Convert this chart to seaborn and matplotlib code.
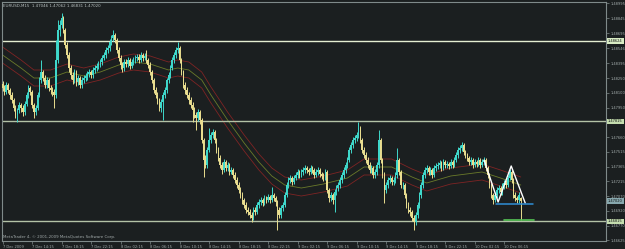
import numpy as np
import pandas as pd
import matplotlib
matplotlib.use("Agg")
import matplotlib.pyplot as plt
import seaborn as sns

# ---------------- data (EURUSD, M15) ----------------
symbol_header = "EURUSD,M15  1.47046 1.47062 1.46831 1.47020"
footer_text = "MetaTrader 4, \u00a9 2001-2009 MetaQuotes Software Corp."

open_ = [1.4819,1.4815,1.4811,1.4818,1.4813,1.4808,1.4803,1.4795,1.4788,1.4793,
 1.4798,1.4795,1.4791,1.4799,1.4808,1.4815,1.4811,1.4798,1.4791,1.4795,
 1.4808,1.4823,1.4831,1.4825,1.4818,1.4823,1.4815,1.4813,1.4811,1.4808,
 1.4843,1.4873,1.4878,1.4885,1.4873,1.4858,1.4848,1.4835,1.4828,1.4823,
 1.4831,1.4821,1.4825,1.4818,1.4823,1.4825,1.4827,1.4829,1.4831,1.4828,
 1.4833,1.4835,1.4837,1.4839,1.4841,1.4845,1.4848,1.4853,1.4855,1.4861,
 1.4865,1.4868,1.4863,1.4853,1.4845,1.4838,1.4835,1.4841,1.4839,1.4843,
 1.4837,1.4841,1.4843,1.4845,1.4846,1.4843,1.4848,1.4845,1.4847,1.4843,
 1.4838,1.4831,1.4823,1.4813,1.4808,1.4803,1.4795,1.4801,1.4808,1.4813,
 1.4823,1.4828,1.4835,1.4843,1.4848,1.4853,1.4855,1.4843,1.4831,1.4818,
 1.4813,1.4808,1.4803,1.4798,1.4793,1.4788,1.4785,1.4791,1.4783,1.4763,
 1.4743,1.4738,1.4753,1.4763,1.4768,1.4771,1.4763,1.4753,1.4745,1.4738,
 1.4733,1.4741,1.4735,1.4738,1.4731,1.4733,1.4728,1.4723,1.4718,1.4713,
 1.4708,1.4703,1.4698,1.4693,1.4691,1.4688,1.4685,1.4693,1.4691,1.4698,
 1.4701,1.4703,1.4700,1.4705,1.4703,1.4706,1.4703,1.4708,1.4705,1.4701,
 1.4693,1.4688,1.4695,1.4698,1.4708,1.4718,1.4723,1.4725,1.4721,1.4725,
 1.4728,1.4731,1.4728,1.4731,1.4733,1.4735,1.4733,1.4731,1.4735,1.4733,
 1.4728,1.4731,1.4733,1.4729,1.4727,1.4725,1.4731,1.4713,1.4705,1.4708,
 1.4703,1.4711,1.4715,1.4718,1.4723,1.4728,1.4733,1.4738,1.4743,1.4753,
 1.4758,1.4763,1.4765,1.4768,1.4775,1.4763,1.4753,1.4748,1.4743,1.4738,
 1.4733,1.4735,1.4728,1.4731,1.4738,1.4763,1.4743,1.4728,1.4713,1.4718,
 1.4723,1.4725,1.4721,1.4723,1.4728,1.4743,1.4731,1.4718,1.4718,1.4708,
 1.4698,1.4693,1.4691,1.4685,1.4681,1.4688,1.4698,1.4708,1.4718,1.4728,
 1.4733,1.4735,1.4731,1.4733,1.4728,1.4735,1.4737,1.4738,1.4740,1.4735,
 1.4741,1.4738,1.4739,1.4737,1.4741,1.4738,1.4743,1.4748,1.4753,1.4755,
 1.4758,1.4751,1.4748,1.4745,1.4741,1.4743,1.4738,1.4741,1.4739,1.4743,
 1.4738,1.4741,1.4743,1.4735,1.4728,1.4718,1.4708,1.4703,1.4708,1.4713,
 1.4715,1.4711,1.4717,1.4720,1.4718,1.4725,1.4731,1.4723,1.4708,1.4705,
 1.4703,1.47046]

high = [1.4822,1.4818,1.4821,1.4820,1.4815,1.4811,1.4805,1.4798,1.4795,1.4801,
 1.4800,1.4798,1.4802,1.4811,1.4818,1.4817,1.4813,1.4800,1.4798,1.4811,
 1.4826,1.4843,1.4833,1.4828,1.4826,1.4825,1.4818,1.4816,1.4814,1.4863,
 1.4883,1.4883,1.4890,1.4887,1.4875,1.4861,1.4851,1.4838,1.4831,1.4834,
 1.4833,1.4828,1.4827,1.4826,1.4828,1.4830,1.4832,1.4834,1.4833,1.4836,
 1.4838,1.4840,1.4842,1.4844,1.4848,1.4851,1.4856,1.4858,1.4864,1.4868,
 1.4873,1.4870,1.4865,1.4856,1.4848,1.4841,1.4844,1.4844,1.4846,1.4845,
 1.4844,1.4846,1.4848,1.4849,1.4849,1.4851,1.4850,1.4850,1.4853,1.4845,
 1.4841,1.4833,1.4825,1.4816,1.4811,1.4805,1.4804,1.4811,1.4816,1.4825,
 1.4831,1.4838,1.4846,1.4851,1.4856,1.4861,1.4857,1.4845,1.4833,1.4821,
 1.4816,1.4811,1.4806,1.4801,1.4796,1.4791,1.4794,1.4793,1.4785,1.4765,
 1.4748,1.4756,1.4775,1.4771,1.4774,1.4773,1.4765,1.4756,1.4748,1.4741,
 1.4744,1.4743,1.4741,1.4740,1.4736,1.4735,1.4731,1.4726,1.4721,1.4716,
 1.4711,1.4705,1.4701,1.4696,1.4694,1.4691,1.4696,1.4696,1.4701,1.4704,
 1.4706,1.4705,1.4708,1.4707,1.4709,1.4708,1.4716,1.4710,1.4707,1.4703,
 1.4696,1.4698,1.4701,1.4711,1.4721,1.4726,1.4728,1.4727,1.4728,1.4731,
 1.4734,1.4733,1.4734,1.4736,1.4738,1.4737,1.4735,1.4738,1.4737,1.4735,
 1.4734,1.4736,1.4735,1.4731,1.4730,1.4734,1.4733,1.4715,1.4711,1.4710,
 1.4714,1.4718,1.4721,1.4726,1.4731,1.4736,1.4741,1.4746,1.4756,1.4761,
 1.4766,1.4768,1.4771,1.4781,1.4777,1.4765,1.4756,1.4751,1.4746,1.4741,
 1.4738,1.4737,1.4734,1.4741,1.4773,1.4765,1.4745,1.4731,1.4721,1.4726,
 1.4728,1.4727,1.4726,1.4731,1.4755,1.4745,1.4733,1.4721,1.4720,1.4710,
 1.4701,1.4696,1.4693,1.4688,1.4691,1.4701,1.4711,1.4721,1.4731,1.4736,
 1.4738,1.4737,1.4736,1.4735,1.4738,1.4740,1.4741,1.4743,1.4742,1.4744,
 1.4743,1.4742,1.4741,1.4744,1.4743,1.4746,1.4751,1.4756,1.4758,1.4761,
 1.4760,1.4753,1.4750,1.4747,1.4746,1.4745,1.4744,1.4743,1.4746,1.4745,
 1.4744,1.4746,1.4745,1.4737,1.4730,1.4720,1.4710,1.4711,1.4716,1.4718,
 1.4717,1.4720,1.4723,1.4723,1.4728,1.4734,1.4733,1.4725,1.4711,1.4707,
 1.4711,1.47062]

low = [1.4812,1.4808,1.4809,1.4810,1.4804,1.4800,1.4792,1.4785,1.4781,1.4790,
 1.4791,1.4787,1.4788,1.4797,1.4805,1.4808,1.4795,1.4785,1.4788,1.4793,
 1.4806,1.4820,1.4822,1.4815,1.4815,1.4812,1.4809,1.4807,1.4795,1.4805,
 1.4840,1.4867,1.4875,1.4870,1.4855,1.4845,1.4831,1.4824,1.4819,1.4820,
 1.4817,1.4818,1.4815,1.4815,1.4820,1.4822,1.4823,1.4826,1.4825,1.4825,
 1.4830,1.4832,1.4834,1.4836,1.4838,1.4843,1.4845,1.4850,1.4852,1.4858,
 1.4862,1.4860,1.4850,1.4842,1.4834,1.4831,1.4832,1.4836,1.4836,1.4834,
 1.4835,1.4838,1.4840,1.4842,1.4840,1.4841,1.4842,1.4843,1.4840,1.4835,
 1.4828,1.4820,1.4810,1.4805,1.4799,1.4792,1.4791,1.4783,1.4805,1.4810,
 1.4820,1.4825,1.4833,1.4840,1.4845,1.4850,1.4840,1.4828,1.4815,1.4809,
 1.4805,1.4799,1.4795,1.4781,1.4785,1.4773,1.4782,1.4779,1.4760,1.4726,
 1.4735,1.4735,1.4751,1.4760,1.4765,1.4760,1.4750,1.4742,1.4735,1.4729,
 1.4731,1.4732,1.4732,1.4728,1.4729,1.4725,1.4720,1.4715,1.4710,1.4705,
 1.4699,1.4695,1.4690,1.4688,1.4685,1.4681,1.4683,1.4688,1.4689,1.4695,
 1.4698,1.4697,1.4698,1.4700,1.4701,1.4700,1.4701,1.4702,1.4697,1.4673,
 1.4685,1.4685,1.4692,1.4696,1.4706,1.4715,1.4720,1.4718,1.4719,1.4723,
 1.4725,1.4725,1.4726,1.4728,1.4730,1.4730,1.4728,1.4729,1.4730,1.4725,
 1.4726,1.4728,1.4726,1.4724,1.4722,1.4723,1.4710,1.4701,1.4702,1.4699,
 1.4691,1.4708,1.4712,1.4715,1.4720,1.4725,1.4730,1.4735,1.4741,1.4750,
 1.4755,1.4760,1.4762,1.4765,1.4760,1.4750,1.4745,1.4740,1.4735,1.4730,
 1.4730,1.4725,1.4725,1.4728,1.4735,1.4740,1.4725,1.4700,1.4710,1.4715,
 1.4720,1.4718,1.4718,1.4720,1.4725,1.4728,1.4715,1.4714,1.4705,1.4695,
 1.4690,1.4687,1.4682,1.4673,1.4678,1.4685,1.4695,1.4705,1.4715,1.4725,
 1.4730,1.4728,1.4728,1.4725,1.4726,1.4732,1.4734,1.4735,1.4732,1.4733,
 1.4735,1.4735,1.4734,1.4735,1.4735,1.4736,1.4741,1.4745,1.4750,1.4752,
 1.4748,1.4745,1.4742,1.4738,1.4738,1.4735,1.4736,1.4736,1.4737,1.4735,
 1.4736,1.4738,1.4732,1.4725,1.4715,1.4705,1.4699,1.4701,1.4705,1.4710,
 1.4708,1.4708,1.4714,1.4715,1.4716,1.4723,1.4720,1.4705,1.4702,1.4700,
 1.4700,1.46831]

close = [1.4815,1.4811,1.4818,1.4813,1.4808,1.4803,1.4795,1.4788,1.4793,1.4798,
 1.4795,1.4791,1.4799,1.4808,1.4815,1.4811,1.4798,1.4791,1.4795,1.4808,
 1.4823,1.4831,1.4825,1.4818,1.4823,1.4815,1.4813,1.4811,1.4808,1.4843,
 1.4873,1.4878,1.4885,1.4873,1.4858,1.4848,1.4835,1.4828,1.4823,1.4831,
 1.4821,1.4825,1.4818,1.4823,1.4825,1.4827,1.4829,1.4831,1.4828,1.4833,
 1.4835,1.4837,1.4839,1.4841,1.4845,1.4848,1.4853,1.4855,1.4861,1.4865,
 1.4868,1.4863,1.4853,1.4845,1.4838,1.4835,1.4841,1.4839,1.4843,1.4837,
 1.4841,1.4843,1.4845,1.4846,1.4843,1.4848,1.4845,1.4847,1.4843,1.4838,
 1.4831,1.4823,1.4813,1.4808,1.4803,1.4795,1.4801,1.4808,1.4813,1.4823,
 1.4828,1.4835,1.4843,1.4848,1.4853,1.4855,1.4843,1.4831,1.4818,1.4813,
 1.4808,1.4803,1.4798,1.4793,1.4788,1.4785,1.4791,1.4783,1.4763,1.4743,
 1.4738,1.4753,1.4763,1.4768,1.4771,1.4763,1.4753,1.4745,1.4738,1.4733,
 1.4741,1.4735,1.4738,1.4731,1.4733,1.4728,1.4723,1.4718,1.4713,1.4708,
 1.4703,1.4698,1.4693,1.4691,1.4688,1.4685,1.4693,1.4691,1.4698,1.4701,
 1.4703,1.4700,1.4705,1.4703,1.4706,1.4703,1.4708,1.4705,1.4701,1.4693,
 1.4688,1.4695,1.4698,1.4708,1.4718,1.4723,1.4725,1.4721,1.4725,1.4728,
 1.4731,1.4728,1.4731,1.4733,1.4735,1.4733,1.4731,1.4735,1.4733,1.4728,
 1.4731,1.4733,1.4729,1.4727,1.4725,1.4731,1.4713,1.4705,1.4708,1.4703,
 1.4711,1.4715,1.4718,1.4723,1.4728,1.4733,1.4738,1.4743,1.4753,1.4758,
 1.4763,1.4765,1.4768,1.4775,1.4763,1.4753,1.4748,1.4743,1.4738,1.4733,
 1.4735,1.4728,1.4731,1.4738,1.4763,1.4743,1.4728,1.4713,1.4718,1.4723,
 1.4725,1.4721,1.4723,1.4728,1.4743,1.4731,1.4718,1.4718,1.4708,1.4698,
 1.4693,1.4691,1.4685,1.4681,1.4688,1.4698,1.4708,1.4718,1.4728,1.4733,
 1.4735,1.4731,1.4733,1.4728,1.4735,1.4737,1.4738,1.4740,1.4735,1.4741,
 1.4738,1.4739,1.4737,1.4741,1.4738,1.4743,1.4748,1.4753,1.4755,1.4758,
 1.4751,1.4748,1.4745,1.4741,1.4743,1.4738,1.4741,1.4739,1.4743,1.4738,
 1.4741,1.4743,1.4735,1.4728,1.4718,1.4708,1.4703,1.4708,1.4713,1.4715,
 1.4711,1.4717,1.4720,1.4718,1.4725,1.4731,1.4723,1.4708,1.4705,1.4703,
 1.4708,1.47020]

# moving average (centre line) read at sample bars, envelope deviation
ma_bars = [0,10,17,26,35,44,53,63,71,80,90,95,101,108,113,122,131,139,146,153,
           162,174,187,196,211,222,230,243,260,270,281]
ma_price = [1.4848,1.4835,1.4825,1.4825,1.4831,1.4827,1.4831,1.4838,1.4841,1.4839,
            1.4833,1.4835,1.4833,1.4823,1.4808,1.4783,1.4760,1.4741,1.4727,1.4718,
            1.4715,1.4719,1.4725,1.4736,1.4736,1.4726,1.4720,1.4727,1.4731,1.4725,
            1.4718]
envelope_dev = 0.0008

# horizontal levels
levels = [1.48620, 1.47815, 1.46815]
level_labels = ["1.48624", "1.47815", "1.46815"]
current_price = 1.47020
current_label = "1.47020"

# drawn objects: "M" pattern, blue neckline, green target
m_bars = [261.1, 268.7, 275.8, 283.4]
m_prices = [1.4743, 1.4701, 1.4737, 1.4700]
blue_bars = [267.6, 287.7]
blue_price = 1.4699
green_bars = [272.0, 288.0]
green_price = 1.4683

# axes text
ytick_vals = [1.48995, 1.48845, 1.48695, 1.48546, 1.48395, 1.48250, 1.48100, 1.47950,
              1.47660, 1.47515, 1.47365, 1.47215, 1.47070, 1.46920, 1.46770, 1.46625]
xtick_bars = [0, 16, 32, 48, 64, 80, 96, 112, 128, 144, 160, 176, 192, 208, 224, 240, 256, 272]
xtick_labels = ["7 Dec 2009", "7 Dec 14:15", "7 Dec 18:15", "7 Dec 22:15", "8 Dec 02:15",
                "8 Dec 06:15", "8 Dec 10:15", "8 Dec 14:15", "8 Dec 18:15", "8 Dec 22:15",
                "9 Dec 02:15", "9 Dec 06:15", "9 Dec 10:15", "9 Dec 14:15", "9 Dec 18:15",
                "9 Dec 22:15", "10 Dec 02:15", "10 Dec 06:15"]

# ---------------- style ----------------
BG = "#1b1f20"
FG = "#a3acac"
UP = "#3fd8cb"
DN = "#e9dd8f"
sns.set_theme(style="dark", rc={
    "axes.facecolor": BG, "figure.facecolor": BG, "axes.edgecolor": "#7f8a8a",
    "axes.linewidth": 0.8, "text.color": FG, "xtick.color": "#7f8a8a",
    "ytick.color": "#7f8a8a", "xtick.labelcolor": FG, "ytick.labelcolor": FG,
    "axes.grid": False,
})
plt.rcParams["font.family"] = ["DejaVu Sans"]

W, H = 625, 249
fig = plt.figure(figsize=(W / 100, H / 100), dpi=100)
ax = fig.add_axes([2 / W, (H - 241) / H, 604 / W, 239 / H])

o = np.array(open_); h = np.array(high); l = np.array(low); c = np.array(close)
idx = np.arange(len(c))
cols = np.where(c >= o, UP, DN)

# envelope + MA via seaborn
ma_arr = np.array(ma_price)
ma_df = pd.DataFrame({
    "bar": ma_bars * 3,
    "price": np.concatenate([ma_arr + envelope_dev, ma_arr, ma_arr - envelope_dev]),
    "line": ["upper"] * len(ma_bars) + ["ma"] * len(ma_bars) + ["lower"] * len(ma_bars),
})
sns.lineplot(data=ma_df, x="bar", y="price", hue="line", estimator=None, sort=False,
             palette={"upper": "#7e2424", "ma": "#6a7a2a", "lower": "#7e2424"},
             linewidth=0.6, legend=False, ax=ax, zorder=1)

# horizontal levels
ax.axhline(levels[0], color="#e4eed2", lw=1.0, zorder=2)
ax.axhline(levels[1], color="#b3c2a6", lw=1.0, zorder=2)
ax.axhline(levels[2], color="#b3c2a6", lw=1.0, zorder=2)

# candles
ax.vlines(idx, l, h, colors=cols, linewidth=0.7, zorder=3)
ax.bar(idx, np.maximum(np.abs(c - o), 0.00004), bottom=np.minimum(o, c), width=0.85,
       color=cols, linewidth=0, zorder=4)

# drawn objects
ax.plot(m_bars, m_prices, color="white", lw=1.0, zorder=5)
ax.plot(blue_bars, [blue_price] * 2, color="#2f8fd6", lw=1.1, zorder=5)
ax.plot(green_bars, [green_price] * 2, color="#55c455", lw=1.2, zorder=5)

ax.set_xlim(-0.3, 327.2)
ax.set_ylim(1.4662, 1.4901)
ax.set_xlabel(""); ax.set_ylabel("")

ax.yaxis.tick_right()
ax.set_yticks(ytick_vals)
ax.set_yticklabels([f"{v:.5f}" for v in ytick_vals], fontsize=2.6)
ax.tick_params(axis="y", length=2, width=0.5, pad=1, right=True, left=False)
ax.set_xticks(xtick_bars)
ax.set_xticklabels(xtick_labels, fontsize=2.6, ha="left")
ax.tick_params(axis="x", length=2, width=0.5, pad=1, bottom=True)
for sp in ax.spines.values():
    sp.set_color("#7f8a8a"); sp.set_linewidth(0.8)

# highlighted price labels on the right
for v, lab, fc in [(levels[0], level_labels[0], "#d9ecc4"), (levels[1], level_labels[1], "#c4dcae"),
                   (levels[2], level_labels[2], "#c4dcae"), (current_price, current_label, "#87a7ad")]:
    ax.annotate(lab, xy=(1.0, v), xycoords=("axes fraction", "data"), xytext=(1.5, 0),
                textcoords="offset points", fontsize=2.6, color="#101414", va="center", ha="left",
                bbox=dict(boxstyle="square,pad=0.25", fc=fc, ec="none"), annotation_clip=False,
                zorder=10)

fig.text(3 / W, 1 - 6 / H, symbol_header, fontsize=2.9, color="#b8c0c0", va="center", ha="left")
fig.text(3 / W, 1 - 237 / H, footer_text, fontsize=2.9, color="#a0a8a8", va="center", ha="left")

fig.savefig("out.png", dpi=100, facecolor=BG)
